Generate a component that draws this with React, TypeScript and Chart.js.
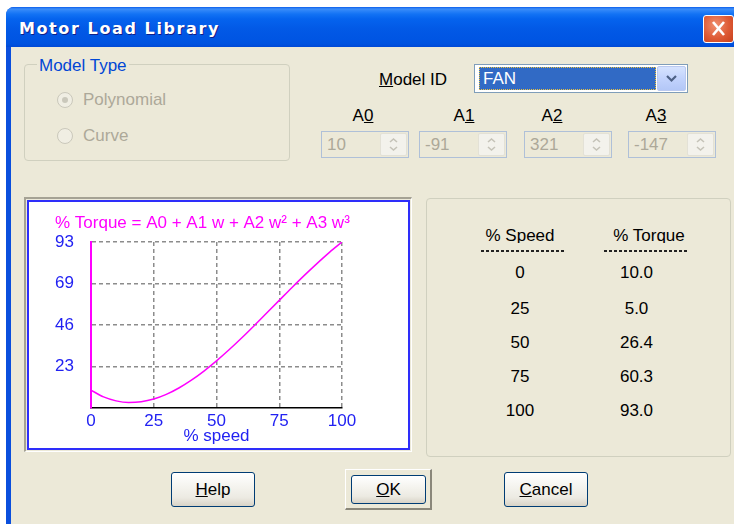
import React, { useEffect, useRef } from 'react';
import { Chart, registerables } from 'chart.js';

Chart.register(...registerables);

// ---- data ----
const speedPoints = [0, 5, 10, 15, 20, 25, 30, 35, 40, 45, 50, 55, 60, 65, 70, 75, 80, 85, 90, 95, 100];
const torquePoints = [10.0, 6.2, 4.0, 3.1, 3.5, 5.0, 7.6, 11.2, 15.6, 20.7, 26.4, 32.6, 39.2, 46.1, 53.2, 60.3, 67.4, 74.3, 80.9, 87.2, 93.0];
const speedTicks = [0, 25, 50, 75, 100];
const speedTickLabels = ['0', '25', '50', '75', '100'];
const torqueTicks = [0, 23.25, 46.5, 69.75, 93];
const torqueTickLabels = ['', '23', '46', '69', '93'];
const tableSpeeds = ['0', '25', '50', '75', '100'];
const tableTorques = ['10.0', '5.0', '26.4', '60.3', '93.0'];
const coefficientNames = ['0', '1', '2', '3'];
const coefficientValues = ['10', '-91', '321', '-147'];
const chartTitle = '% Torque = A0 + A1 w + A2 w\u00B2 + A3 w\u00B3';
const xAxisTitle = '% speed';

const FONT = '"Liberation Sans", Arial, sans-serif';
const BEIGE = '#ECE9D8';
const BLUE = '#2222F2';
const MAGENTA = '#FF00FF';
const GRID = '#8C8C8C';

function TorqueChart() {
  const ref = useRef<HTMLCanvasElement>(null);
  useEffect(() => {
    const tickFont = { family: FONT, size: 17, weight: 'normal' as const, lineHeight: 1.2 };
    const chart = new Chart(ref.current as HTMLCanvasElement, {
      type: 'line',
      data: {
        datasets: [
          {
            data: speedPoints.map((x, i) => ({ x, y: torquePoints[i] })),
            borderColor: MAGENTA,
            borderWidth: 1.5,
            pointRadius: 0,
            cubicInterpolationMode: 'monotone',
            fill: false,
            yAxisID: 'y',
            xAxisID: 'x',
          },
        ],
      },
      options: {
        animation: false,
        responsive: false,
        events: [],
        layout: { padding: { left: 26, right: 0, top: 0, bottom: 0 } },
        plugins: {
          legend: { display: false },
          tooltip: { enabled: false },
          title: {
            display: true,
            text: chartTitle,
            align: 'start',
            color: MAGENTA,
            font: tickFont,
            padding: { top: 11, bottom: 8.6 },
          },
        },
        scales: {
          x: {
            type: 'linear',
            min: 0,
            max: 100,
            afterBuildTicks: (s: any) => {
              s.ticks = speedTicks.map((v) => ({ value: v }));
            },
            afterFit: (s: any) => {
              s.height = 40;
            },
            ticks: {
              color: BLUE,
              font: tickFont,
              padding: 3,
              autoSkip: false,
              maxRotation: 0,
              callback: (_v: any, i: number) => speedTickLabels[i],
            },
            grid: {
              drawTicks: false,
              lineWidth: 1.5,
              color: (c: any) => (c.tick && c.tick.value === 0 ? 'rgba(0,0,0,0)' : GRID),
            },
            border: { display: true, color: '#000', width: 1.5, dash: [4, 3] },
            title: {
              display: true,
              text: xAxisTitle,
              color: BLUE,
              font: tickFont,
              padding: { top: 0, bottom: 1 },
            },
          },
          y: {
            type: 'linear',
            position: 'left',
            min: 0,
            max: 93,
            afterBuildTicks: (s: any) => {
              s.ticks = torqueTicks.map((v) => ({ value: v }));
            },
            afterFit: (s: any) => {
              s.width = 36;
            },
            ticks: {
              color: BLUE,
              font: tickFont,
              padding: 17,
              autoSkip: false,
              callback: (_v: any, i: number) => torqueTickLabels[i],
            },
            grid: {
              drawTicks: false,
              lineWidth: 1.5,
              color: (c: any) => (c.tick && c.tick.value === 0 ? 'rgba(0,0,0,0)' : GRID),
            },
            border: { display: true, color: MAGENTA, width: 2, dash: [4, 3] },
          },
          yR: {
            type: 'linear',
            position: 'right',
            display: true,
            afterFit: (s: any) => {
              s.width = 66;
            },
            ticks: { display: false },
            grid: { display: false, drawTicks: false },
            border: { display: false },
          },
        },
      } as any,
    });
    return () => chart.destroy();
  }, []);
  return <canvas ref={ref} width={379} height={246} style={{ display: 'block', width: 379, height: 246 }} />;
}

type TxtProps = {
  x: number;
  y: number;
  color?: string;
  align?: 'left' | 'center';
  size?: number;
  children: React.ReactNode;
  style?: React.CSSProperties;
};
function Txt({ x, y, color = '#000', align = 'left', size = 17, children, style }: TxtProps) {
  return (
    <div
      style={{
        position: 'absolute',
        left: x,
        top: y - size * 0.49,
        fontSize: size,
        lineHeight: 1,
        color,
        whiteSpace: 'nowrap',
        transform: align === 'center' ? 'translateX(-50%)' : undefined,
        ...style,
      }}
    >
      {children}
    </div>
  );
}

const abs = (l: number, t: number, w: number, h: number, extra: React.CSSProperties = {}): React.CSSProperties => ({
  position: 'absolute',
  left: l,
  top: t,
  width: w,
  height: h,
  boxSizing: 'border-box',
  ...extra,
});

function Radio({ cx, cy, checked }: { cx: number; cy: number; checked: boolean }) {
  return (
    <div style={abs(cx - 8, cy - 8, 16, 16, { borderRadius: '50%', border: '1px solid #CAC8BB', background: '#F0EEE3' })}>
      {checked && <div style={abs(4, 4, 6, 6, { borderRadius: '50%', background: '#CAC8BB' })} />}
    </div>
  );
}

function SpinBox({ x, value }: { x: number; value: string }) {
  return (
    <>
      <div style={abs(x, 131, 88, 27, { border: '1px solid #AFC0D8', background: BEIGE })} />
      <Txt x={x + 6} y={144} color="#ACA899">
        {value}
      </Txt>
      <div style={abs(x + 59, 133, 27, 23, { border: '1px solid #E3E1D6', borderRadius: 2, background: '#F3F2EC' })}>
        <svg width={25} height={21} style={{ position: 'absolute', left: 0, top: 0 }}>
          <polyline points="9,8 12.5,5 16,8" fill="none" stroke="#C5C3B8" strokeWidth={1.6} />
          <polyline points="9,13 12.5,16 16,13" fill="none" stroke="#C5C3B8" strokeWidth={1.6} />
        </svg>
      </div>
    </>
  );
}

function Button({ x, y, w, h, children }: { x: number; y: number; w: number; h: number; children: React.ReactNode }) {
  return (
    <div
      style={abs(x, y, w, h, {
        border: '1px solid #003C74',
        borderRadius: 3,
        background: 'linear-gradient(to bottom, #FFFFFF 0%, #F5F4EF 40%, #ECEAE2 75%, #D8D3C7 100%)',
        display: 'flex',
        alignItems: 'center',
        justifyContent: 'center',
        fontSize: 17,
        color: '#000',
      })}
    >
      {children}
    </div>
  );
}

const U = ({ children }: { children: React.ReactNode }) => <span style={{ textDecoration: 'underline' }}>{children}</span>;

export default function App() {
  const aCenters = [363, 464, 552, 656];
  const spinX = [321, 419, 524, 628];
  const rowY = [272.7, 308, 342, 376.7, 410];
  return (
    <div
      style={{
        position: 'fixed',
        left: 0,
        top: 0,
        width: 734,
        height: 524,
        background: '#FFFFFF',
        overflow: 'hidden',
        fontFamily: FONT,
      }}
    >
      {/* window frame */}
      <div style={abs(6, 7, 760, 560, { borderRadius: '8px 8px 0 0', background: '#0A4FDD' })} />
      <div
        style={abs(6, 7, 760, 40, {
          borderRadius: '8px 8px 0 0',
          background:
            'linear-gradient(to bottom, #0A5EEC 0%, #3D8EF8 5%, #2A82F8 10%, #1272F4 18%, #0563EE 30%, #0259E6 55%, #0055E3 80%, #0053E0 92%, #0049D6 100%)',
        })}
      />
      <div style={abs(11, 47, 760, 520, { background: BEIGE })} />
      <Txt
        x={19}
        y={29}
        color="#FFFFFF"
        size={16}
        style={{ fontFamily: '"DejaVu Sans", sans-serif', fontWeight: 'bold', letterSpacing: 1.6, textShadow: '1px 1px 0 #0F1F8A' }}
      >
        Motor Load Library
      </Txt>
      <div
        style={abs(703, 15, 31, 28, {
          border: '1px solid #FFFFFF',
          borderRadius: 3,
          background: 'radial-gradient(circle at 40% 35%, #F09070 0%, #DE5A35 55%, #C7401C 100%)',
        })}
      >
        <svg width={29} height={26} style={{ position: 'absolute', left: 0, top: 0 }}>
          <line x1={9} y1={6} x2={20} y2={19} stroke="#FFFFFF" strokeWidth={2.6} />
          <line x1={20} y1={6} x2={9} y2={19} stroke="#FFFFFF" strokeWidth={2.6} />
        </svg>
      </div>

      {/* Model Type group */}
      <div style={abs(24, 64, 266, 97, { border: '1px solid #D0D0BF', borderRadius: 4 })} />
      <Txt x={37} y={65} color="#0046D5" style={{ background: BEIGE, padding: '0 2px' }}>
        Model Type
      </Txt>
      <Radio cx={65} cy={99.5} checked={true} />
      <Txt x={83} y={99} color="#ACA899">
        Polynomial
      </Txt>
      <Radio cx={65} cy={136} checked={false} />
      <Txt x={83} y={135.5} color="#ACA899">
        Curve
      </Txt>

      {/* Model ID */}
      <Txt x={379} y={79}>
        <U>M</U>odel ID
      </Txt>
      <div style={abs(474, 64, 214, 29, { border: '1px solid #7F9DB9', background: '#FFFFFF' })} />
      <div style={abs(479, 67, 177, 23, { background: '#316AC5', outline: '1px dotted #E8C040', outlineOffset: -1 })} />
      <Txt x={483} y={78} color="#FFFFFF">
        FAN
      </Txt>
      <div
        style={abs(657, 66, 29, 25, {
          borderRadius: 2,
          border: '1px solid #BAC9F0',
          background: 'linear-gradient(to bottom, #D6E3FE 0%, #C2D3FC 50%, #B3C7F7 100%)',
        })}
      >
        <svg width={27} height={23} style={{ position: 'absolute', left: 0, top: 0 }}>
          <polyline points="9,9 13.5,13.5 18,9" fill="none" stroke="#4D6185" strokeWidth={2.2} />
        </svg>
      </div>

      {/* Coefficients */}
      {coefficientNames.map((n, i) => (
        <Txt key={'a' + i} x={aCenters[i]} y={115} align="center">
          A<U>{n}</U>
        </Txt>
      ))}
      {coefficientValues.map((v, i) => (
        <SpinBox key={'s' + i} x={spinX[i]} value={v} />
      ))}

      {/* Chart frame */}
      <div
        style={abs(24, 197, 388, 255, {
          borderTop: '2px solid #A5A294',
          borderLeft: '2px solid #A5A294',
          borderRight: '1px solid #FFFFFF',
          borderBottom: '1px solid #FFFFFF',
        })}
      />
      <div style={abs(27, 200, 383, 250, { border: '2px solid #2E2EFA', background: '#FFFFFF' })} />
      <div style={abs(29, 202, 379, 246)}>
        <TorqueChart />
      </div>

      {/* Table group */}
      <div style={abs(426, 198, 305, 259, { border: '1px solid #D0D0BF', borderRadius: 4 })} />
      <div style={{ position: 'absolute', left: 460, top: 227.2, width: 120, height: 15.5, overflow: 'hidden', textAlign: 'center', fontSize: 17, lineHeight: 1, color: '#000' }}>
        % Speed
      </div>
      <div style={{ position: 'absolute', left: 589, top: 227.2, width: 120, height: 15.5, overflow: 'hidden', textAlign: 'center', fontSize: 17, lineHeight: 1, color: '#000' }}>
        % Torque
      </div>
      <div style={abs(481, 250, 83, 1.5, { background: 'repeating-linear-gradient(to right, #222 0px, #222 3px, transparent 3px, transparent 5px)' })} />
      <div style={abs(604, 250, 83, 1.5, { background: 'repeating-linear-gradient(to right, #222 0px, #222 3px, transparent 3px, transparent 5px)' })} />
      {tableSpeeds.map((s, i) => (
        <Txt key={'ts' + i} x={520} y={rowY[i]} align="center">
          {s}
        </Txt>
      ))}
      {tableTorques.map((t, i) => (
        <Txt key={'tt' + i} x={636.5} y={rowY[i]} align="center">
          {t}
        </Txt>
      ))}

      {/* Buttons */}
      <Button x={171} y={472} w={84} h={35}>
        <span>
          <U>H</U>elp
        </span>
      </Button>
      <div
        style={abs(345, 469, 87, 41, {
          borderTop: '1px solid #FFFFFF',
          borderLeft: '1px solid #FFFFFF',
          borderRight: '2px solid #8A877A',
          borderBottom: '2px solid #8A877A',
        })}
      />
      <Button x={351} y={475} w={75} h={29}>
        <span>
          <U>O</U>K
        </span>
      </Button>
      <Button x={504} y={472} w={84} h={35}>
        <span>
          <U>C</U>ancel
        </span>
      </Button>
    </div>
  );
}
